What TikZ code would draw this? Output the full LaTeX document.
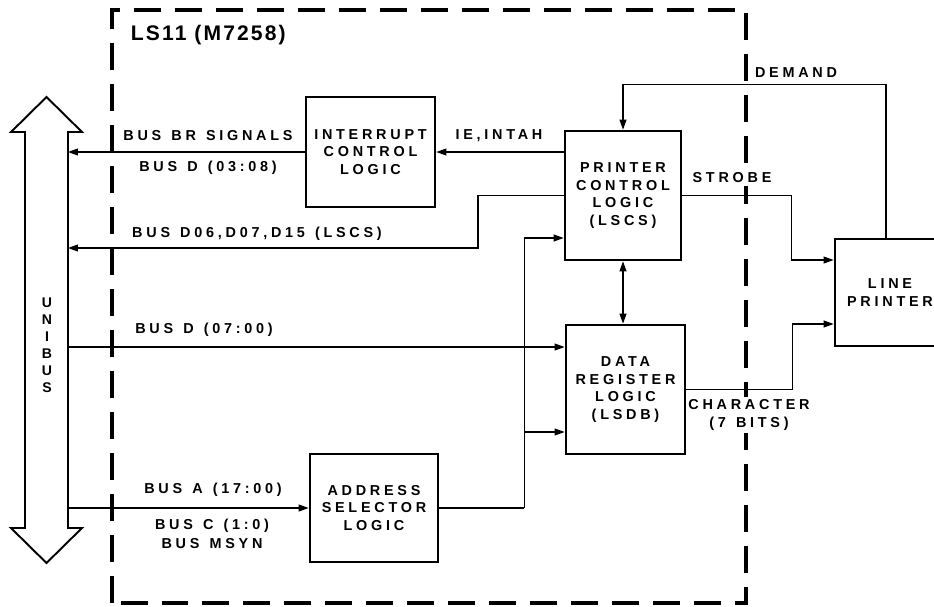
\documentclass[tikz,border=0pt]{standalone}
\usepackage{fontspec}
\newfontfamily\lettering[LetterSpace=26, WordSpace=1.3]{Liberation Sans}
\newfontfamily\titlelettering[LetterSpace=10]{Liberation Sans}
\usetikzlibrary{positioning, arrows.meta, calc}

\begin{document}
\begin{tikzpicture}[
    x=0.02cm, y=-0.02cm,
    blk/.style={draw, rectangle, line width=1.6pt, align=center, inner sep=0pt, font=\lettering\bfseries\fontsize{8.2}{10}\selectfont},
    lbl/.style={fill=white, inner sep=1.5pt, align=center, font=\lettering\bfseries\fontsize{8.2}{10.5}\selectfont},
    wire/.style={line width=0.6pt},
    arr/.style={-{Triangle[length=2mm,width=1.4mm]}, line width=0.6pt},
    darr/.style={{Triangle[length=2mm,width=1.4mm]}-{Triangle[length=2mm,width=1.4mm]}, line width=0.6pt},
    board/.style={line width=2.3pt, dash pattern=on 0.54cm off 0.28cm}
]
    \useasboundingbox (0,0) rectangle (934,606);

    % module outline
    \draw[board] (112,603) -- (112,10) -- (746,10) -- (746,603) -- cycle;
    \node[lbl, anchor=west, font=\titlelettering\bfseries\fontsize{12}{14}\selectfont] (title) at (128,35) {LS11 (M7258)};

    % unibus
    \draw[line width=1.1pt] (25,132) -- (11,132) -- (46.5,97) -- (82,132) -- (68,132)
        -- (68,528) -- (82,528) -- (46.5,563) -- (11,528) -- (25,528) -- cycle;
    \node[lbl, font=\lettering\bfseries\fontsize{8}{9.7}\selectfont] (unibus) at (47,345) {U\\N\\I\\B\\U\\S};
    \coordinate (busR) at (68,300);

    \node[blk, minimum width=2.58cm, minimum height=2.2cm] (icl) at (370.5,152) {INTERRUPT\\CONTROL\\LOGIC};
    \node[blk, minimum width=2.32cm, minimum height=2.58cm] (pcl) at (623,195.5) {PRINTER\\CONTROL\\LOGIC\\(LSCS)};
    \node[blk, minimum width=2.38cm, minimum height=2.58cm] (drl) at (625.5,389.5) {DATA\\REGISTER\\LOGIC\\(LSDB)};
    \node[blk, minimum width=2.56cm, minimum height=2.16cm] (asl) at (374,508) {ADDRESS\\SELECTOR\\LOGIC};
    \node[blk, minimum width=2.2cm, minimum height=2.14cm] (lp) at (890,292.5) {LINE\\PRINTER};

    \coordinate (lscs) at (478,248);
    \coordinate (dIn) at ([yshift=0.85cm]drl.west);

    \draw[arr] (icl.west) -- (icl.west -| busR);
    \draw[arr] (pcl.west |- icl.east) -- (icl.east);
    \draw[arr] (pcl.west) -| (lscs) -- (lscs -| busR);
    \draw[arr] (dIn -| busR) -- (dIn);
    \draw[arr] (asl.west -| busR) -- (asl.west);
    \draw[wire] (asl.east) -- ++(85,0) coordinate (ajog);
    \draw[arr] (ajog) |- ([yshift=-0.85cm]pcl.west);
    \draw[arr] (ajog) |- ([yshift=-0.85cm]drl.west);
    \draw[darr] (pcl.south) -- (pcl.south |- drl.north);
    \draw[arr] (pcl.east) -- ++(109,0) |- ([yshift=0.65cm]lp.west);
    \draw[arr] (drl.east) -- ++(106,0) |- ([yshift=-0.63cm]lp.west);
    \draw[arr] ([xshift=-0.08cm]lp.north) -- ++(0,-153) -| (pcl.north);

    % signal names
    \node[lbl] (brsig) at (208,136) {BUS BR SIGNALS};
    \node[lbl] (bd0308) at (208,168) {BUS D (03:08)};
    \node[lbl] (bdlscs) at (257,234) {BUS D06,D07,D15 (LSCS)};
    \node[lbl] (bd0700) at (204,330) {BUS D (07:00)};
    \node[lbl] (ba) at (213,490) {BUS A (17:00)};
    \node[lbl] (bc) at (212,534) {BUS C (1:0)\\BUS MSYN};
    \node[lbl] (ie) at (499,136) {IE,INTAH};
    \node[lbl] (strobe) at (732,178) {STROBE};
    \node[lbl] (demand) at (796,73) {DEMAND};
    \node[lbl] (chr) at (749,415) {CHARACTER\\(7 BITS)};
\end{tikzpicture}
\end{document}
